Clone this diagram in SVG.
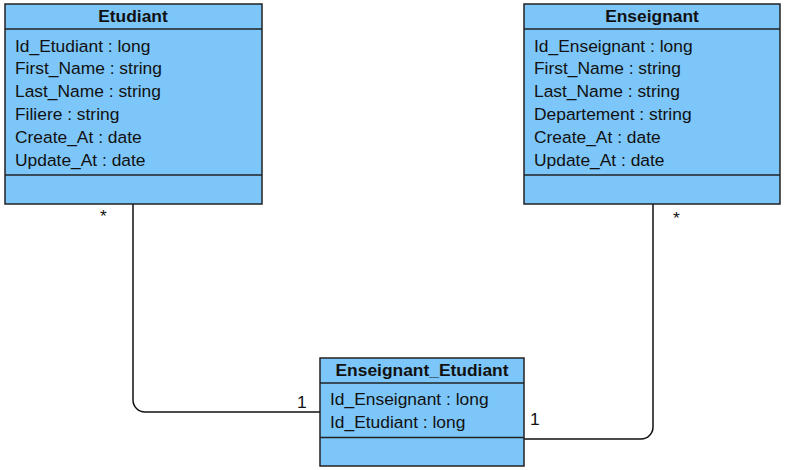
<svg xmlns="http://www.w3.org/2000/svg" width="787" height="470" viewBox="0 0 787 470">
<style>
.box{fill:#7DC6F9;stroke:#222;stroke-width:1.5}
.sep{stroke:#222;stroke-width:1.5}
.t{font-family:"Liberation Sans",Arial,sans-serif;font-size:17.4px;fill:#111}
.h{font-weight:bold;text-anchor:middle}
.conn{fill:none;stroke:#111;stroke-width:1.5}
</style>
<rect width="787" height="470" fill="#fff"/>
<g id="connectors">
<path class="conn" d="M133,204 V400 A12,12 0 0 0 145,412 H320"/>
<path class="conn" d="M653,204 V427 A12,12 0 0 1 641,439 H524"/>
<text class="t" x="100" y="222">*</text>
<text class="t" x="297" y="408">1</text>
<text class="t" x="530" y="425">1</text>
<text class="t" x="673" y="224">*</text>
</g>
<g id="Etudiant">
<rect class="box" x="5" y="4" width="257" height="200"/>
<line class="sep" x1="5" y1="29" x2="262" y2="29"/>
<line class="sep" x1="5" y1="175" x2="262" y2="175"/>
<text class="t h" x="133" y="22">Etudiant</text>
<text class="t" x="15" y="51.5">Id_Etudiant : long</text>
<text class="t" x="15" y="74.3">First_Name : string</text>
<text class="t" x="15" y="97.1">Last_Name : string</text>
<text class="t" x="15" y="119.9">Filiere : string</text>
<text class="t" x="15" y="142.7">Create_At : date</text>
<text class="t" x="15" y="165.5">Update_At : date</text>
</g>
<g id="Enseignant">
<rect class="box" x="524" y="4" width="256" height="200"/>
<line class="sep" x1="524" y1="29" x2="780" y2="29"/>
<line class="sep" x1="524" y1="175" x2="780" y2="175"/>
<text class="t h" x="652" y="22">Enseignant</text>
<text class="t" x="534" y="51.5">Id_Enseignant : long</text>
<text class="t" x="534" y="74.3">First_Name : string</text>
<text class="t" x="534" y="97.1">Last_Name : string</text>
<text class="t" x="534" y="119.9">Departement : string</text>
<text class="t" x="534" y="142.7">Create_At : date</text>
<text class="t" x="534" y="165.5">Update_At : date</text>
</g>
<g id="Enseignant_Etudiant">
<rect class="box" x="320" y="358" width="204" height="108"/>
<line class="sep" x1="320" y1="383" x2="524" y2="383"/>
<line class="sep" x1="320" y1="437.5" x2="524" y2="437.5"/>
<text class="t h" x="422" y="376">Enseignant_Etudiant</text>
<text class="t" x="330" y="405">Id_Enseignant : long</text>
<text class="t" x="330" y="428">Id_Etudiant : long</text>
</g>
</svg>
